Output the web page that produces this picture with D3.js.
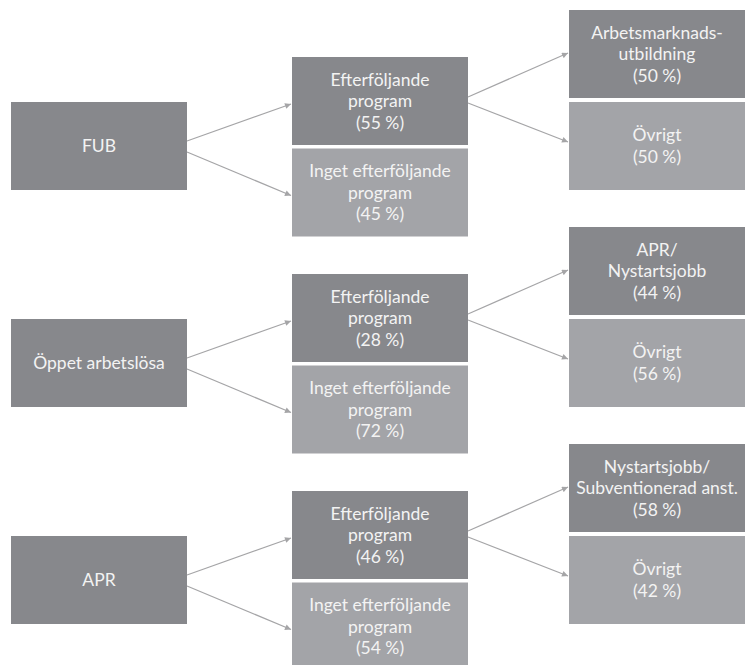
<!DOCTYPE html>
<html>
<head>
<meta charset="utf-8">
<script src="https://cdn.jsdelivr.net/npm/d3@7/dist/d3.min.js"></script>
<style>
  html, body { margin: 0; padding: 0; background: #ffffff; }
  svg { display: block; }
</style>
</head>
<body>
<svg id="chart" width="745" height="665"></svg>
<script>
// ---- Data ----
const groups = ["FUB", "Öppet arbetslösa", "APR"];
const withProgramLabel = ["Efterföljande", "program"];
const withoutProgramLabel = ["Inget efterföljande", "program"];
const withProgramShare = [55, 28, 46];
const withoutProgramShare = [45, 72, 54];
const nextProgramLabels = [
  ["Arbetsmarknads-", "utbildning"],
  ["APR/", "Nystartsjobb"],
  ["Nystartsjobb/", "Subventionerad anst."]
];
const nextProgramShare = [50, 44, 58];
const otherLabel = ["Övrigt"];
const otherShare = [50, 56, 42];

// ---- Layout ----
const W = 745, H = 665;
const boxW = 176, boxH = 88;
const darkFill = "#87888c", lightFill = "#a3a4a8";
const arrowColor = "#a5a5a7";
const textColor = "#f3f3f3";

const colX = d3.scaleOrdinal().domain(["root", "mid", "leaf"]).range([11, 292, 569]);
const groupY = d3.scaleLinear().domain([0, 2]).range([102, 536]);

const fmt = v => `(${v} %)`;

const nodes = [];
const links = [];
groups.forEach((g, i) => {
  const y0 = groupY(i);
  const root = { id: `r${i}`, col: "root", y: y0, fill: darkFill, lines: [g] };
  const midA = { id: `m${i}a`, col: "mid", y: y0 - 45, fill: darkFill,
                 lines: [...withProgramLabel, fmt(withProgramShare[i])] };
  const midB = { id: `m${i}b`, col: "mid", y: y0 - 45 + boxH + 3.5, fill: lightFill,
                 lines: [...withoutProgramLabel, fmt(withoutProgramShare[i])] };
  const leafA = { id: `l${i}a`, col: "leaf", y: y0 - boxH - 4, fill: darkFill,
                  lines: [...nextProgramLabels[i], fmt(nextProgramShare[i])] };
  const leafB = { id: `l${i}b`, col: "leaf", y: y0, fill: lightFill,
                  lines: [...otherLabel, fmt(otherShare[i])] };
  nodes.push(root, midA, midB, leafA, leafB);
  links.push({ s: root, t: midA, sdy: -5, tdy: 3 });
  links.push({ s: root, t: midB, sdy: 6, tdy: 3 });
  links.push({ s: midA, t: leafA, sdy: -4, tdy: -1 });
  links.push({ s: midA, t: leafB, sdy: 2, tdy: -4 });
});

const svg = d3.select("#chart");

svg.append("defs").append("marker")
  .attr("id", "arrow")
  .attr("viewBox", "0 0 10 10")
  .attr("refX", 10).attr("refY", 5)
  .attr("markerUnits", "userSpaceOnUse")
  .attr("markerWidth", 8).attr("markerHeight", 6)
  .attr("orient", "auto")
  .append("path")
  .attr("d", "M0,0 L10,5 L0,10 Z")
  .attr("fill", arrowColor);

// boxes
const nodeG = svg.append("g").selectAll("g")
  .data(nodes).join("g")
  .attr("transform", d => `translate(${colX(d.col)},${d.y})`);

nodeG.append("rect")
  .attr("width", boxW).attr("height", boxH)
  .attr("fill", d => d.fill);

const lineH = 21.5;
nodeG.append("text")
  .attr("text-anchor", "middle")
  .attr("fill", textColor)
  .attr("font-family", "Lato, 'Open Sans', sans-serif")
  .attr("font-size", 17.5)
  .selectAll("tspan")
  .data(d => d.lines.map((l, k) => ({ l, k, n: d.lines.length })))
  .join("tspan")
  .attr("x", boxW / 2)
  .attr("y", d => boxH / 2 + (d.k - (d.n - 1) / 2) * lineH + 6)
  .text(d => d.l);

// arrows
svg.append("g").selectAll("line")
  .data(links).join("line")
  .attr("x1", d => colX(d.s.col) + boxW)
  .attr("y1", d => d.s.y + boxH / 2 + d.sdy)
  .attr("x2", d => colX(d.t.col) - 1)
  .attr("y2", d => d.t.y + boxH / 2 + d.tdy)
  .attr("stroke", arrowColor)
  .attr("stroke-width", 1.2)
  .attr("marker-end", "url(#arrow)");
</script>
</body>
</html>
